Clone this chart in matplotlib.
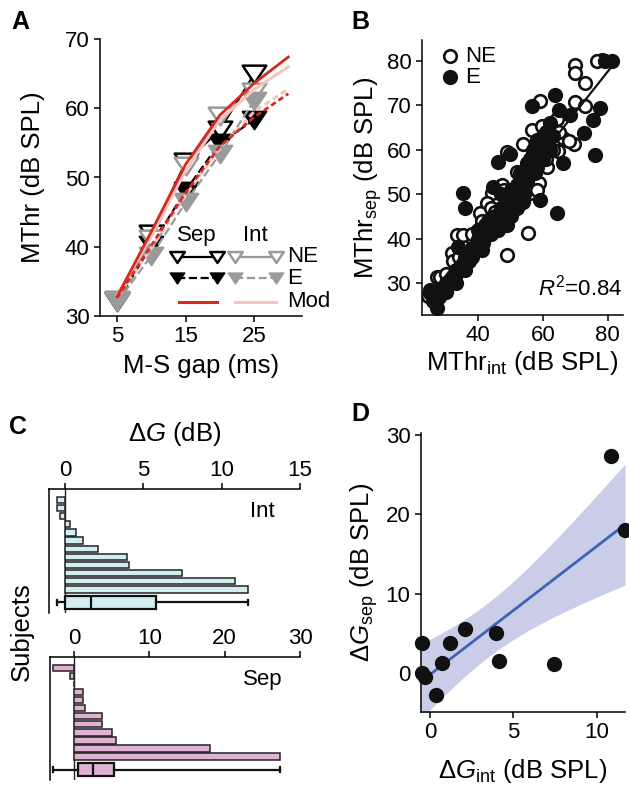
import numpy as np
import matplotlib
matplotlib.use("Agg")
import matplotlib.pyplot as plt
from matplotlib.path import Path

plt.rcParams['font.family'] = ['Liberation Sans', 'DejaVu Sans']
plt.rcParams['mathtext.fontset'] = 'custom'
plt.rcParams['mathtext.rm'] = 'Liberation Sans'
plt.rcParams['mathtext.it'] = 'Liberation Sans:italic'
plt.rcParams['mathtext.bf'] = 'Liberation Sans:bold'
plt.rcParams['axes.linewidth'] = 1.1
plt.rcParams['xtick.major.width'] = 1.1
plt.rcParams['ytick.major.width'] = 1.1
plt.rcParams['xtick.major.size'] = 4
plt.rcParams['ytick.major.size'] = 4

TICK_FS = 16
LAB_FS = 18.5

# ---------------- Panel A data ----------------
gap = [5, 10, 15, 20, 25]
sep_ne = [32.2, 41.8, 52.2, 56.9, 64.9]
sep_e = [32.0, 40.2, 48.1, 55.0, 58.3]
int_ne = [32.3, 41.1, 51.6, 58.9, 62.4]
int_e = [32.0, 38.7, 46.4, 53.4, 61.1]
mod_gap = [5, 10, 15, 20, 25, 30]
mod_sep_ne = [32.8, 42.2, 51.9, 59.0, 63.6, 67.4]
mod_int_ne = [33.0, 41.5, 51.0, 58.3, 62.7, 66.0]
mod_sep_e = [32.6, 40.2, 47.8, 54.5, 58.7, 62.1]
mod_int_e = [32.6, 39.8, 47.4, 54.2, 59.5, 62.8]

# ---------------- Panel B data ----------------
ne_int = [78.2, 70.0, 70.0, 73.1, 58.9, 70.0, 73.1, 64.2, 56.5, 59.8, 69.7, 66.3,
          53.9, 64.7, 48.8, 61.1, 58.7, 47.2, 44.1, 56.0, 58.0, 49.8, 55.5, 48.8,
          42.6, 40.5, 33.3, 31.8, 27.1, 24.5, 30.2, 32.3, 37.9, 45.7, 47.7, 35.4,
          28.1, 76.8, 26.0, 29.0, 34.0, 38.0, 41.0, 44.0,
          48.0, 52.0, 55.0, 58.0, 62.0, 63.0,
          65.0, 68.0, 61.0, 45.0, 37.0, 33.0, 30.0]
ne_sep = [80.2, 79.0, 77.2, 74.9, 71.0, 70.7, 69.7, 66.8, 64.4, 65.2, 61.3, 62.6,
          61.3, 59.6, 59.4, 56.2, 52.6, 52.1, 50.2, 50.2, 51.0, 48.0, 41.2, 36.4,
          48.0, 45.7, 40.9, 36.7, 31.5, 27.2, 30.6, 35.1, 40.2, 43.0, 43.8, 40.9,
          31.5, 80.0, 28.0, 29.0, 36.0, 41.0, 44.0, 47.0,
          51.0, 55.0, 56.0, 62.0, 64.0, 60.0,
          64.0, 62.0, 58.0, 46.0, 37.0, 33.0, 32.0]
e_int = [81.2, 79.2, 63.7, 56.5, 65.0, 68.3, 77.6, 75.4, 72.8, 76.1, 66.1, 46.2,
         49.8, 64.2, 59.1, 53.9, 35.4, 35.9, 41.5, 33.8, 27.1, 25.1, 25.0, 44.6,
         41.0, 58.0, 60.1, 57.0, 56.0, 52.9, 57.5,
         26.0, 27.0, 28.0, 29.0, 30.0, 30.0, 31.0, 32.0, 33.0, 33.0, 34.0, 35.0,
         36.0, 36.0, 37.0, 38.0, 38.0, 39.0, 40.0, 40.0, 41.0, 42.0, 42.0, 43.0,
         43.0, 44.0, 44.0, 45.0, 45.0, 46.0, 46.0, 47.0, 47.0, 48.0, 48.0, 49.0,
         49.0, 50.0, 50.0, 51.0, 52.0, 53.0, 53.0, 54.0, 55.0, 55.0, 56.0, 57.0,
         58.0, 58.0, 59.0, 60.0, 61.0, 61.0, 62.0, 63.0, 62.0, 60.0, 54.0, 50.0,
         47.0, 52.0]
e_sep = [79.8, 80.0, 72.3, 69.7, 68.9, 67.8, 69.3, 66.7, 63.7, 58.7, 57.0, 57.3,
         59.0, 45.7, 48.7, 48.3, 50.2, 46.9, 39.0, 38.2, 24.4, 28.5, 27.8, 51.7,
         37.5, 62.2, 60.0, 59.2, 57.0, 54.7, 54.7,
         26.0, 28.0, 27.0, 29.0, 28.0, 30.0, 30.0, 31.0, 32.0, 30.0, 33.0, 34.0,
         36.0, 33.0, 35.0, 38.0, 36.0, 38.0, 40.0, 42.0, 41.0, 41.0, 43.0, 42.0,
         44.0, 44.0, 41.0, 43.0, 45.0, 44.0, 42.0, 45.0, 47.0, 44.0, 46.0, 43.0,
         47.0, 45.0, 48.0, 50.0, 52.0, 49.0, 54.0, 55.0, 57.0, 53.0, 58.0, 60.0,
         61.0, 56.0, 62.0, 63.0, 61.0, 64.0, 60.0, 63.0, 66.0, 58.0, 50.0, 51.0,
         50.0, 47.0]
r2_text = "0.84"

# ---------------- Panel C / D data (per subject) ----------------
dg_int = [-0.5, -0.5, -0.3, 0.35, 0.7, 1.17, 2.09, 3.98, 4.11, 7.45, 10.85, 11.7]
dg_sep = [3.7, 0.0, -0.53, -2.75, 1.2, 3.7, 5.55, 5.05, 1.45, 1.15, 27.4, 18.0]

# ---------------- colours ----------------
RED = '#d42b20'
PINK = '#f6c3c3'
GRAY = '#9a9a9a'
CYAN = '#d3eef0'
MAUVE = '#e0b3d5'
BLUE = '#4062b5'
BAND = '#c9cde8'

W, H = 629, 795
fig = plt.figure(figsize=(W / 100, H / 100), dpi=100)


def axes_px(l, t, r, b):
    return fig.add_axes([l / W, 1 - b / H, (r - l) / W, (b - t) / H])


tri = Path([(-1.0, 0.75), (1.0, 0.75), (0.0, -0.75), (-1.0, 0.75)],
           [Path.MOVETO, Path.LINETO, Path.LINETO, Path.CLOSEPOLY])

# ================= Panel A =================
axA = axes_px(100, 39, 302, 316)
ms = 17
axA.plot(gap, sep_ne, '-', color='black', lw=1.6, marker=tri, ms=ms,
         mfc='white', mec='black', mew=1.8, zorder=3)
axA.plot(gap, sep_e, '--', color='black', lw=1.6, marker=tri, ms=ms,
         mfc='black', mec='black', mew=1.5, zorder=3)
axA.plot(gap, int_ne, '-', color=GRAY, lw=1.6, marker=tri, ms=ms,
         mfc='white', mec=GRAY, mew=1.8, zorder=4)
axA.plot(gap, int_e, '--', color=GRAY, lw=1.6, marker=tri, ms=ms,
         mfc=GRAY, mec=GRAY, mew=1.5, zorder=4)
axA.plot(mod_gap, mod_int_ne, '-', color=PINK, lw=2.2, zorder=5)
axA.plot(mod_gap, mod_int_e, '--', color=PINK, lw=2.2, dashes=(2, 1.2), zorder=5)
axA.plot(mod_gap, mod_sep_ne, '-', color=RED, lw=2.0, zorder=6)
axA.plot(mod_gap, mod_sep_e, '--', color=RED, lw=2.0, dashes=(2, 1.2), zorder=6)
axA.set_xlim(2.5, 32)
axA.set_ylim(30, 70)
axA.set_xticks([5, 15, 25])
axA.set_yticks([30, 40, 50, 60, 70])
for s in ['top', 'right']:
    axA.spines[s].set_visible(False)
axA.tick_params(labelsize=TICK_FS)
axA.set_xlabel('M-S gap (ms)', fontsize=LAB_FS, labelpad=5)
axA.set_ylabel('MThr (dB SPL)', fontsize=LAB_FS, labelpad=14)

# custom legend (axes fraction coordinates)
tA = axA.transAxes
lms = 10.5
axA.text(0.48, 0.292, 'Sep', transform=tA, ha='center', va='center', fontsize=TICK_FS)
axA.text(0.77, 0.292, 'Int', transform=tA, ha='center', va='center', fontsize=TICK_FS)
rows = [0.213, 0.137, 0.052]
axA.plot([0.38, 0.58], [rows[0]] * 2, '-', color='black', lw=1.6, marker=tri, ms=lms,
         mfc='white', mec='black', mew=1.8, transform=tA, clip_on=False, zorder=7)
axA.plot([0.67, 0.87], [rows[0]] * 2, '-', color=GRAY, lw=1.6, marker=tri, ms=lms,
         mfc='white', mec=GRAY, mew=1.8, transform=tA, clip_on=False, zorder=7)
axA.plot([0.38, 0.58], [rows[1]] * 2, '--', color='black', lw=1.6, marker=tri, ms=lms,
         mfc='black', mec='black', transform=tA, clip_on=False, zorder=7)
axA.plot([0.67, 0.87], [rows[1]] * 2, '--', color=GRAY, lw=1.6, marker=tri, ms=lms,
         mfc=GRAY, mec=GRAY, transform=tA, clip_on=False, zorder=7)
axA.plot([0.39, 0.58], [rows[2]] * 2, '-', color=RED, lw=2.2, transform=tA,
         clip_on=False, zorder=7)
axA.plot([0.67, 0.87], [rows[2]] * 2, '-', color=PINK, lw=2.2, transform=tA,
         clip_on=False, zorder=7)
for lab, yy in zip(['NE', 'E', 'Mod'], rows):
    axA.text(0.925, yy, lab, transform=tA, ha='left', va='center', fontsize=TICK_FS,
             clip_on=False)

# ================= Panel B =================
axB = axes_px(421.7, 40, 623, 315)
axB.scatter(ne_int, ne_sep, s=82, facecolor='white', edgecolor='#111111',
            linewidth=1.9, zorder=3)
axB.scatter(e_int, e_sep, s=82, facecolor='#111111', edgecolor='#111111',
            linewidth=1.9, zorder=4)
allx = np.array(ne_int + e_int)
ally = np.array(ne_sep + e_sep)
k, c0 = np.polyfit(allx, ally, 1)
xx = np.array([allx.min(), allx.max()])
axB.plot(xx, k * xx + c0, color='#111111', lw=1.6, zorder=5)
axB.set_xlim(22.5, 84.7)
axB.set_ylim(22.9, 84.6)
axB.set_xticks([40, 60, 80])
axB.set_yticks([30, 40, 50, 60, 70, 80])
for s in ['top', 'right']:
    axB.spines[s].set_visible(False)
axB.tick_params(labelsize=TICK_FS)
axB.set_xlabel(r'MThr$_{\mathrm{int}}$ (dB SPL)', fontsize=LAB_FS, labelpad=2)
axB.set_ylabel(r'MThr$_{\mathrm{sep}}$ (dB SPL)', fontsize=LAB_FS, labelpad=2)
axB.scatter([], [], s=82, facecolor='white', edgecolor='#111111', linewidth=1.9, label='NE')
axB.scatter([], [], s=82, facecolor='#111111', edgecolor='#111111', linewidth=1.9, label='E')
axB.legend(loc='upper left', frameon=False, fontsize=TICK_FS, handletextpad=0.1,
           borderaxespad=0.0, labelspacing=0.0, bbox_to_anchor=(0.03, 1.01),
           handlelength=1.2)
axB.text(0.995, 0.1, r'$R^2$=' + r2_text, transform=axB.transAxes, ha='right',
         va='center', fontsize=TICK_FS)


# ================= Panel C =================
def matlab_stats(vals):
    v = np.sort(np.asarray(vals))
    n = len(v)
    med = np.median(v)
    lo = v[: n // 2]
    hi = v[(n + 1) // 2:]
    return dict(med=med, q1=np.median(lo), q3=np.median(hi),
                whislo=v.min(), whishi=v.max(), fliers=[])


def panel_c(ax, vals, color, xlim, xticks, name):
    v = np.sort(np.asarray(vals))
    pos = np.arange(1, len(v) + 1)
    ax.barh(pos, v, height=0.78, color=color, edgecolor='#222222', linewidth=1.1,
            zorder=3)
    box_pos = len(v) + 1.6
    ax.bxp([matlab_stats(v)], positions=[box_pos], vert=False, widths=1.6,
           patch_artist=True, showfliers=False,
           boxprops=dict(facecolor=color, edgecolor='#111111', linewidth=1.6),
           medianprops=dict(color='#111111', linewidth=1.6),
           whiskerprops=dict(color='#111111', linewidth=1.6),
           capprops=dict(color='#111111', linewidth=1.6), capwidths=0.6,
           manage_ticks=False, zorder=4)
    ax.axvline(0, color='#222222', lw=1.0, zorder=2)
    ax.set_xlim(*xlim)
    ax.set_ylim(len(v) + 2.9, -0.3)
    ax.set_xticks(xticks)
    ax.set_yticks([])
    ax.xaxis.tick_top()
    ax.spines['right'].set_visible(False)
    ax.spines['bottom'].set_visible(False)
    ax.tick_params(labelsize=TICK_FS, pad=2)
    ax.text(0.85, 0.82, name, transform=ax.transAxes, ha='center', va='center',
            fontsize=TICK_FS)


axCi = axes_px(49.3, 489.3, 300, 613)
panel_c(axCi, dg_int, CYAN, (-1.0, 15), [0, 5, 10, 15], 'Int')
axCi.xaxis.set_label_position('top')
axCi.set_xlabel(r'Δ$G$ (dB)', fontsize=LAB_FS, labelpad=14)

axCs = axes_px(50, 657.3, 300, 780)
panel_c(axCs, dg_sep, MAUVE, (-3.2, 30), [0, 10, 20, 30], 'Sep')

fig.text(22 / W, 1 - 632 / H, 'Subjects', rotation=90, ha='center', va='center',
         fontsize=LAB_FS)

# ================= Panel D =================
axD = axes_px(421, 433.3, 625, 711.7)
xd = np.array(dg_int)
yd = np.array(dg_sep)
slope, icpt = np.polyfit(xd, yd, 1)
n = len(xd)
resid = yd - (slope * xd + icpt)
s_err = np.sqrt(np.sum(resid ** 2) / (n - 2))
sxx = np.sum((xd - xd.mean()) ** 2)
t_val = 2.228  # t(0.975, df=10)
xg = np.linspace(-0.55, 11.7, 100)
yg = slope * xg + icpt
half = t_val * s_err * np.sqrt(1.0 / n + (xg - xd.mean()) ** 2 / sxx)
axD.fill_between(xg, yg - half, yg + half, color=BAND, lw=0, zorder=1)
xl = np.array([xd.min(), xd.max()])
axD.plot(xl, slope * xl + icpt, color=BLUE, lw=2.0, zorder=2)
axD.scatter(xd, yd, s=100, color='#111111', zorder=3, clip_on=False)
axD.set_xlim(-0.55, 11.7)
axD.set_ylim(-4.9, 30.2)
axD.set_xticks([0, 5, 10])
axD.set_yticks([0, 10, 20, 30])
for s in ['top', 'right']:
    axD.spines[s].set_visible(False)
axD.tick_params(labelsize=TICK_FS)
axD.set_xlabel(r'Δ$G_{\mathrm{int}}$ (dB SPL)', fontsize=LAB_FS, labelpad=10)
axD.set_ylabel(r'Δ$G_{\mathrm{sep}}$ (dB SPL)', fontsize=LAB_FS, labelpad=4)

# panel letters
for letter, (px, py) in zip('ABCD', [(20, 22), (360, 22), (18, 427), (360, 414)]):
    fig.text(px / W, 1 - py / H, letter, fontsize=18, fontweight='bold',
             ha='center', va='center')

fig.savefig('out.png', dpi=100)
